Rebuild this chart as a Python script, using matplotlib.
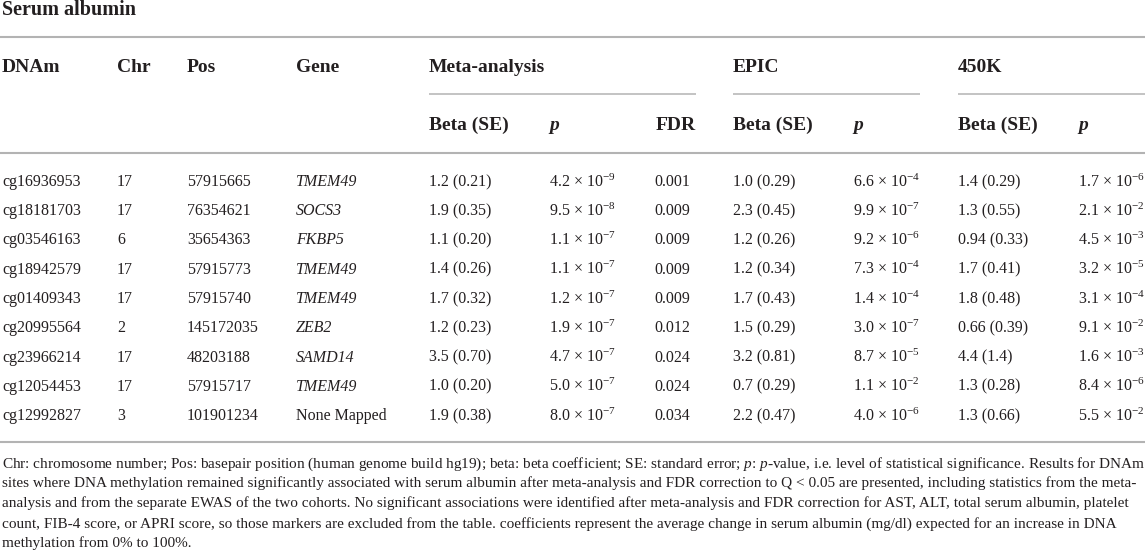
import matplotlib
matplotlib.use("Agg")
import matplotlib.pyplot as plt

plt.rcParams['font.family'] = ['Liberation Serif', 'DejaVu Serif']
plt.rcParams['mathtext.fontset'] = 'custom'
plt.rcParams['mathtext.rm'] = 'Liberation Serif'
plt.rcParams['mathtext.it'] = 'Liberation Serif:italic'
plt.rcParams['mathtext.bf'] = 'Liberation Serif:bold'

title = "Serum albumin"
dnam = ["cg16936953", "cg18181703", "cg03546163", "cg18942579", "cg01409343",
        "cg20995564", "cg23966214", "cg12054453", "cg12992827"]
chrom = ["17", "17", "6", "17", "17", "2", "17", "17", "3"]
pos = ["57915665", "76354621", "35654363", "57915773", "57915740",
       "145172035", "48203188", "57915717", "101901234"]
gene = ["TMEM49", "SOCS3", "FKBP5", "TMEM49", "TMEM49", "ZEB2", "SAMD14", "TMEM49", "None Mapped"]
meta_beta = ["1.2 (0.21)", "1.9 (0.35)", "1.1 (0.20)", "1.4 (0.26)", "1.7 (0.32)",
             "1.2 (0.23)", "3.5 (0.70)", "1.0 (0.20)", "1.9 (0.38)"]
meta_p = ["4.2e-9", "9.5e-8", "1.1e-7", "1.1e-7", "1.2e-7", "1.9e-7", "4.7e-7", "5.0e-7", "8.0e-7"]
fdr = ["0.001", "0.009", "0.009", "0.009", "0.009", "0.012", "0.024", "0.024", "0.034"]
epic_beta = ["1.0 (0.29)", "2.3 (0.45)", "1.2 (0.26)", "1.2 (0.34)", "1.7 (0.43)",
             "1.5 (0.29)", "3.2 (0.81)", "0.7 (0.29)", "2.2 (0.47)"]
epic_p = ["6.6e-4", "9.9e-7", "9.2e-6", "7.3e-4", "1.4e-4", "3.0e-7", "8.7e-5", "1.1e-2", "4.0e-6"]
k450_beta = ["1.4 (0.29)", "1.3 (0.55)", "0.94 (0.33)", "1.7 (0.41)", "1.8 (0.48)",
             "0.66 (0.39)", "4.4 (1.4)", "1.3 (0.28)", "1.3 (0.66)"]
k450_p = ["1.7e-6", "2.1e-2", "4.5e-3", "3.2e-5", "3.1e-4", "9.1e-2", "1.6e-3", "8.4e-6", "5.5e-2"]

top_headers = ["DNAm", "Chr", "Pos", "Gene", "Meta-analysis", "EPIC", "450K"]
sub_headers = ["Beta (SE)", "p", "FDR", "Beta (SE)", "p", "Beta (SE)", "p"]

footnote = [
    "Chr: chromosome number; Pos: basepair position (human genome build hg19); beta: beta coefficient; SE: standard error; $\\mathit{p}$: $\\mathit{p}$-value, i.e. level of statistical significance. Results for DNAm",
    "sites where DNA methylation remained significantly associated with serum albumin after meta-analysis and FDR correction to Q < 0.05 are presented, including statistics from the meta-",
    "analysis and from the separate EWAS of the two cohorts. No significant associations were identified after meta-analysis and FDR correction for AST, ALT, total serum albumin, platelet",
    "count, FIB-4 score, or APRI score, so those markers are excluded from the table. coefficients represent the average change in serum albumin (mg/dl) expected for an increase in DNA",
    "methylation from 0% to 100%.",
]

TXT = "#231f20"
LINE = "#b3b3b3"
HEAD_SIZE = 14


def fmt_p(s):
    m, e = s.split("e")
    return m + " \u00d7 10$^{" + e.replace("-", "\u2212") + "}$"


fig = plt.figure(figsize=(11.45, 5.53), dpi=100)
ax = fig.add_axes([0, 0, 1, 1])
ax.set_xlim(0, 1145)
ax.set_ylim(553, 0)
ax.axis("off")

col_x = [2, 117, 187, 296, 429, 549, 654, 733, 853, 958, 1078]

ax.text(2, 15, title, fontsize=14.5, fontweight="bold", color=TXT, va="baseline")

# rules
for y in [37, 153, 442]:
    ax.plot([0, 1145], [y, y], color=LINE, lw=1.5, solid_capstyle="butt")
for x0, x1 in [(429, 696), (733, 920), (958, 1145)]:
    ax.plot([x0, x1], [94, 94], color=LINE, lw=1.1, solid_capstyle="butt")

# headers
top_x = [col_x[0], col_x[1], col_x[2], col_x[3], col_x[4], col_x[7], col_x[9]]
for x, h in zip(top_x, top_headers):
    ax.text(x, 72, h, fontsize=HEAD_SIZE, fontweight="bold", color=TXT, va="baseline")
for x, h in zip(col_x[4:], sub_headers):
    if h == "p":
        ax.text(x, 130, h, fontsize=HEAD_SIZE, fontweight="bold", fontstyle="italic", color=TXT, va="baseline")
    elif h == "FDR":
        ax.text(696, 130, h, fontsize=HEAD_SIZE, fontweight="bold", color=TXT, va="baseline", ha="right")
    else:
        ax.text(x, 130, h, fontsize=HEAD_SIZE, fontweight="bold", color=TXT, va="baseline")

# body
for i in range(len(dnam)):
    y = 180 + 29.25 * i
    row = [dnam[i], chrom[i], pos[i], gene[i], meta_beta[i], fmt_p(meta_p[i]), fdr[i],
           epic_beta[i], fmt_p(epic_p[i]), k450_beta[i], fmt_p(k450_p[i])]
    for j, (x, s) in enumerate(zip(col_x, row)):
        style = "italic" if (j == 3 and s != "None Mapped") else "normal"
        ax.text(x, y, s, fontsize=11.5, fontstyle=style, color=TXT, va="center_baseline")

# footnote, sized to fit width
fn_texts = []
for k, line in enumerate(footnote):
    fn_texts.append(ax.text(2, 462 + 20 * k, line, fontsize=10, color=TXT, va="center_baseline"))
fig.canvas.draw()
r = fig.canvas.get_renderer()
widest = max(t.get_window_extent(r).width for t in fn_texts[:4])
size = 10 * 1138 / widest
for t in fn_texts:
    t.set_fontsize(size)

fig.savefig("out.png", dpi=100)
